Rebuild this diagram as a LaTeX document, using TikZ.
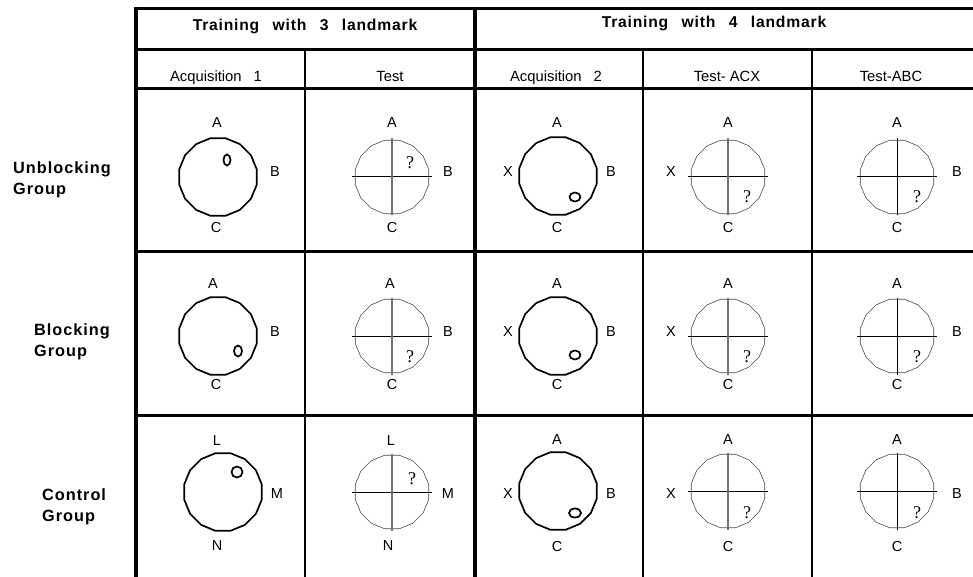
\documentclass[tikz,border=0pt]{standalone}
\usepackage{fontspec}
\setmainfont{Liberation Sans}
\newfontfamily\qfont{Liberation Serif}
\newfontfamily\hdfont[LetterSpace=5,WordSpace=2.6]{Liberation Sans}
\newfontfamily\rowfont[LetterSpace=6]{Liberation Sans}
\usetikzlibrary{shapes.geometric}
\tikzset{
  hline/.style={line width=3pt},
  vline/.style={line width=2.8pt},
  lbl/.style={font=\fontsize{14.5}{14.5}\selectfont, inner sep=0pt},
  sub/.style={font=\fontsize{14.8}{14.8}\selectfont, inner sep=0pt, anchor=base},
  hdr/.style={font=\hdfont\bfseries\fontsize{15.7}{15.7}\selectfont, inner sep=0pt, anchor=base},
  grp/.style={font=\rowfont\bfseries\fontsize{16.3}{16.3}\selectfont, inner sep=0pt, anchor=base west},
  qm/.style={font=\qfont\fontsize{18}{18}\selectfont, inner sep=0pt},
  acqpoly/.style={draw, regular polygon, regular polygon sides=16, minimum size=79pt, inner sep=0pt, line width=1.7pt},
  tstpoly/.style={draw=black!70, regular polygon, regular polygon sides=16, minimum size=75pt, inner sep=0pt, line width=0.6pt},
  crossh/.style={line width=1pt, draw=black},
  crossv/.style={line width=1.2pt},
  oval/.style={line width=1.7pt}
}
\newcommand\acqring[3]{\node[acqpoly] (#1) at (#2,#3) {};}
\newcommand\tstring[5]{%
  \node[tstpoly] (#1) at (#2,#3) {};
  \draw[crossh] ([xshift=-40pt]#1.center) -- ([xshift=40pt]#1.center);
  \draw[crossv,draw=#4,line width=#5] ([yshift=38.5pt]#1.center) -- ([yshift=-38.5pt]#1.center);}
\begin{document}
\begin{tikzpicture}[x=1pt,y=-1pt]
\useasboundingbox (0,0) rectangle (973,577);
\fill[white] (0,0) rectangle (973,577);
% grid
\draw[line width=4.5pt] (136,7) -- (136,577);
\draw[hline] (134,9) -- (973,9);
\draw[hline] (134,50) -- (973,50);
\draw[hline] (134,88.5) -- (973,88.5);
\draw[hline] (134,251.7) -- (973,251.7);
\draw[hline] (134,415.5) -- (973,415.5);
\draw[vline] (305,50) -- (305,577);
\draw[line width=3.8pt] (474.7,9) -- (474.7,577);
\draw[vline] (643,50) -- (643,577);
\draw[vline] (812,50) -- (812,577);
% headers
\node[hdr] (h3) at (305,31) {Training with 3 landmark};
\node[hdr] (h4) at (714,28) {Training with 4 landmark};
\node[sub] (s1) at (216,81.5) {Acquisition\hspace{12pt}1};
\node[sub] (s2) at (390,81.5) {Test};
\node[sub] (s3) at (556,81.5) {Acquisition\hspace{12pt}2};
\node[sub] (s4) at (727,81.5) {Test-\hspace{4pt}ACX};
\node[sub] (s5) at (891,81.5) {Test-ABC};
% row labels
\node[grp] (g1a) at (13,173.5) {Unblocking};
\node[grp] (g1b) at (13,195) {Group};
\node[grp] (g2a) at (34,335) {Blocking};
\node[grp] (g2b) at (34,356) {Group};
\node[grp] (g3a) at (42,500) {Control};
\node[grp] (g3b) at (42,521) {Group};
% ---------------- row 1
\acqring{a11}{218}{177}
\draw[oval] (227,160) ellipse [x radius=3.5, y radius=5.5];
\node[lbl] (a11A) at (217,123) {A};
\node[lbl] (a11B) at (275,172) {B};
\node[lbl] (a11C) at (216,228) {C};
\tstring{t12}{392}{177}{black!55}{1.2pt}
\node[lbl] (t12A) at (392,123) {A};
\node[lbl] (t12B) at (448,172) {B};
\node[lbl] (t12C) at (392,228) {C};
\node[qm] (t12q) at (410,163) {?};
\acqring{a13}{558}{176}
\draw[oval] (575,197) ellipse [x radius=5.5, y radius=4.5];
\node[lbl] (a13A) at (557,123) {A};
\node[lbl] (a13X) at (508,172) {X};
\node[lbl] (a13B) at (611,172) {B};
\node[lbl] (a13C) at (557,228) {C};
\tstring{t14}{728}{177}{black!55}{1.2pt}
\node[lbl] (t14A) at (728,123) {A};
\node[lbl] (t14X) at (671,172) {X};
\node[lbl] (t14C) at (728,228) {C};
\node[qm] (t14q) at (747,197) {?};
\tstring{t15}{897}{177}{black}{0.9pt}
\node[lbl] (t15A) at (897,123) {A};
\node[lbl] (t15B) at (957,172) {B};
\node[lbl] (t15C) at (897,228) {C};
\node[qm] (t15q) at (917,197) {?};
% ---------------- row 2
\acqring{a21}{218}{336}
\draw[oval] (238,351) ellipse [x radius=4, y radius=5.5];
\node[lbl] (a21A) at (213,284) {A};
\node[lbl] (a21B) at (275,332) {B};
\node[lbl] (a21C) at (216,385) {C};
\tstring{t22}{392}{336}{black!55}{1.2pt}
\node[lbl] (t22A) at (390,284) {A};
\node[lbl] (t22B) at (448,332) {B};
\node[lbl] (t22C) at (392,385) {C};
\node[qm] (t22q) at (410,357) {?};
\acqring{a23}{558}{336}
\draw[oval] (575,355) ellipse [x radius=5.5, y radius=4.5];
\node[lbl] (a23A) at (557,284) {A};
\node[lbl] (a23X) at (508,332) {X};
\node[lbl] (a23B) at (611,332) {B};
\node[lbl] (a23C) at (557,385) {C};
\tstring{t24}{728}{336}{black!55}{1.2pt}
\node[lbl] (t24A) at (728,284) {A};
\node[lbl] (t24X) at (671,332) {X};
\node[lbl] (t24C) at (728,385) {C};
\node[qm] (t24q) at (747,357) {?};
\tstring{t25}{897}{336}{black}{0.9pt}
\node[lbl] (t25A) at (897,284) {A};
\node[lbl] (t25B) at (957,332) {B};
\node[lbl] (t25C) at (897,385) {C};
\node[qm] (t25q) at (917,357) {?};
% ---------------- row 3
\acqring{a31}{223}{492}
\draw[oval] (237,472) circle [radius=5.5];
\node[lbl] (a31L) at (217,441) {L};
\node[lbl] (a31M) at (277,494) {M};
\node[lbl] (a31N) at (217,546) {N};
\tstring{t32}{392}{492}{black!55}{1.2pt}
\node[lbl] (t32L) at (391,441) {L};
\node[lbl] (t32M) at (448,494) {M};
\node[lbl] (t32N) at (388,546) {N};
\node[qm] (t32q) at (412,479) {?};
\acqring{a33}{558}{491}
\draw[oval] (575,513) ellipse [x radius=6, y radius=4.5];
\node[lbl] (a33A) at (557,440) {A};
\node[lbl] (a33X) at (508,494) {X};
\node[lbl] (a33B) at (611,494) {B};
\node[lbl] (a33C) at (557,547) {C};
\tstring{t34}{728}{491}{black!55}{1.2pt}
\node[lbl] (t34A) at (728,440) {A};
\node[lbl] (t34X) at (671,494) {X};
\node[lbl] (t34C) at (728,547) {C};
\node[qm] (t34q) at (747,513) {?};
\tstring{t35}{897}{491}{black}{0.9pt}
\node[lbl] (t35A) at (897,440) {A};
\node[lbl] (t35B) at (957,494) {B};
\node[lbl] (t35C) at (897,547) {C};
\node[qm] (t35q) at (917,513) {?};
\end{tikzpicture}
\end{document}
